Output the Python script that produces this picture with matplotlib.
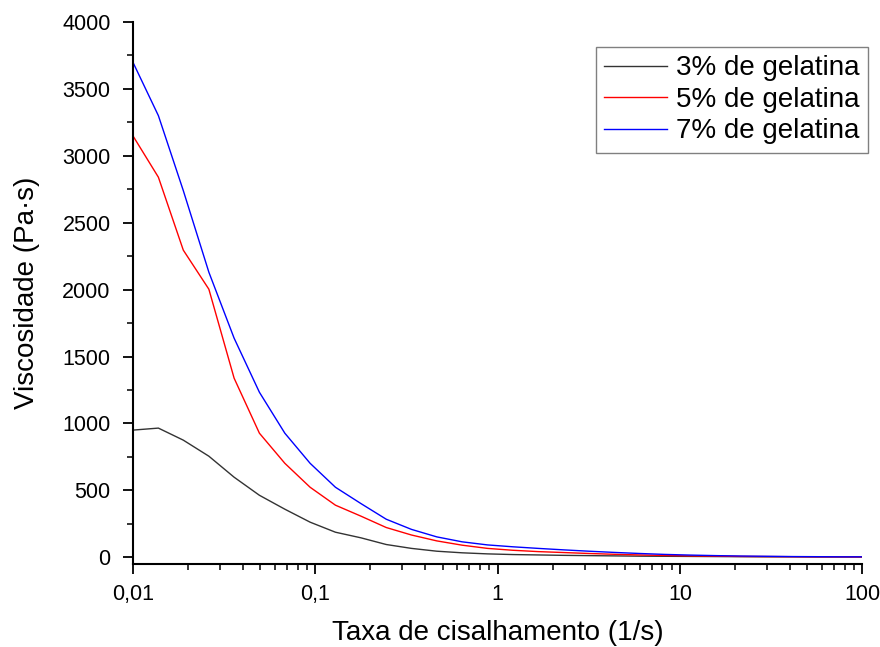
import numpy as np
import matplotlib as mpl
import matplotlib.pyplot as plt
from matplotlib.ticker import FixedLocator, FixedFormatter, MultipleLocator, LogLocator

plt.rcParams['font.family'] = ['Liberation Sans', 'DejaVu Sans']

#%% data
shear_rate = [0.01, 0.0138, 0.0189, 0.0261, 0.0359, 0.0494, 0.0681, 0.0937, 0.129, 0.178,
              0.245, 0.337, 0.464, 0.639, 0.880, 1.21, 1.67, 2.30, 3.16, 4.35,
              5.99, 8.25, 11.4, 15.7, 21.5, 29.7, 40.9, 56.2, 77.4, 100]
visc_3 = [950, 965, 875, 755, 598, 463, 359, 262, 187, 145,
          95, 66, 45, 33, 25, 20, 17, 14, 12, 10,
          8, 7, 6, 5, 4, 3, 3, 2, 2, 2]
visc_5 = [3150, 2840, 2295, 2003, 1338, 927, 702, 523, 389, 307,
          222, 166, 122, 90, 66, 52, 42, 35, 28, 22,
          17, 13, 10, 8, 6, 5, 4, 3, 3, 2]
visc_7 = [3700, 3300, 2740, 2130, 1637, 1233, 927, 702, 523, 401,
          284, 208, 152, 115, 92, 78, 66, 55, 45, 36,
          28, 21, 16, 12, 9, 7, 5, 4, 3, 3]
series_labels = ['3% de gelatina', '5% de gelatina', '7% de gelatina']
x_ticks = [0.01, 0.1, 1, 10, 100]
x_tick_labels = ['0,01', '0,1', '1', '10', '100']

#%% plot
fig = plt.figure(figsize=(8.8, 6.47), dpi=100)
ax = fig.add_axes([0.151, 0.128, 0.829, 0.838])

ax.plot(shear_rate, visc_3, color='#333333', lw=1.0, label=series_labels[0])
ax.plot(shear_rate, visc_5, color='#ff0000', lw=1.0, label=series_labels[1])
ax.plot(shear_rate, visc_7, color='#0000ff', lw=1.0, label=series_labels[2])

ax.set_xscale('log')
ax.set_xlim(0.01, 100)
ax.set_ylim(-52, 4000)

ax.xaxis.set_major_locator(FixedLocator(x_ticks))
ax.xaxis.set_major_formatter(FixedFormatter(x_tick_labels))
ax.xaxis.set_minor_locator(LogLocator(base=10, subs=np.arange(2, 10)))
ax.xaxis.set_minor_formatter(FixedFormatter([]))
ax.yaxis.set_major_locator(MultipleLocator(500))
ax.yaxis.set_minor_locator(MultipleLocator(250))

for side in ['top', 'right']:
    ax.spines[side].set_visible(False)
for side in ['left', 'bottom']:
    ax.spines[side].set_linewidth(1.5)

ax.tick_params(which='major', direction='out', length=7, width=1.3, labelsize=15.5)
ax.tick_params(axis='y', which='major', pad=9)
ax.tick_params(axis='x', which='major', pad=7)
ax.tick_params(which='minor', direction='out', length=4, width=1.1)

ax.set_xlabel('Taxa de cisalhamento (1/s)', fontsize=20, labelpad=11)
ax.set_ylabel('Viscosidade (Pa·s)', fontsize=20, labelpad=16)

leg = ax.legend(loc='upper right', bbox_to_anchor=(1.008, 0.954), borderaxespad=0,
                fontsize=20, fancybox=False, framealpha=1, edgecolor='#808080',
                handlelength=2.25, borderpad=0.3, labelspacing=0.2, handletextpad=0.35)
leg.get_frame().set_linewidth(1.0)

fig.savefig('out.png', dpi=100)
